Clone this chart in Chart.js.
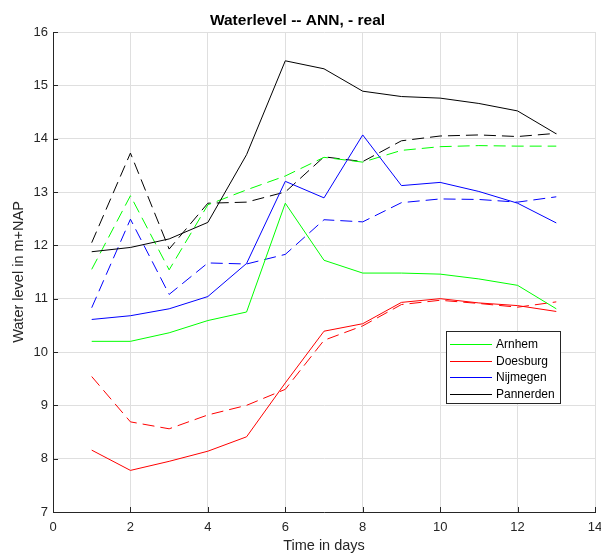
<!DOCTYPE html>
<html>
<head>
<meta charset="utf-8">
<script src="https://cdn.jsdelivr.net/npm/chart.js@4.4.1/dist/chart.umd.min.js"></script>
<style>
  html, body { margin: 0; padding: 0; background: #ffffff; }
  #wrap { width: 601px; height: 557px; }
</style>
</head>
<body>
<div id="wrap"><canvas id="waterChart" width="601" height="557"></canvas></div>
<script>
// 1. Data
const days = [1, 2, 3, 4, 5, 6, 7, 8, 9, 10, 11, 12, 13];
const stations = ['Arnhem', 'Doesburg', 'Nijmegen', 'Pannerden'];
const stationColors = ['#00ff00', '#ff0000', '#0000ff', '#000000'];

// solid = real measurements
const arnhemReal    = [10.20, 10.20, 10.36, 10.59, 10.75, 12.79, 11.72, 11.48, 11.48, 11.46, 11.37, 11.25, 10.81];
const doesburgReal  = [8.16, 7.78, 7.95, 8.14, 8.41, 9.42, 10.39, 10.53, 10.93, 11.00, 10.92, 10.87, 10.76];
const nijmegenReal  = [10.61, 10.68, 10.81, 11.04, 11.66, 13.20, 12.89, 14.07, 13.12, 13.18, 13.01, 12.79, 12.42];
const pannerdenReal = [11.88, 11.96, 12.12, 12.43, 13.70, 15.46, 15.31, 14.89, 14.79, 14.76, 14.66, 14.52, 14.09];

// dashed = ANN prediction
const arnhemAnn    = [11.55, 12.93, 11.54, 12.76, 13.04, 13.30, 13.65, 13.56, 13.78, 13.85, 13.87, 13.86, 13.86];
const doesburgAnn  = [9.54, 8.69, 8.56, 8.82, 9.00, 9.30, 10.22, 10.49, 10.89, 10.97, 10.91, 10.84, 10.94];
const nijmegenAnn  = [10.83, 12.49, 11.08, 11.67, 11.65, 11.83, 12.48, 12.44, 12.80, 12.87, 12.86, 12.81, 12.91];
const pannerdenAnn = [12.05, 13.73, 11.93, 12.79, 12.81, 13.00, 13.66, 13.57, 13.96, 14.05, 14.07, 14.04, 14.10];

const xTickValues = [0, 2, 4, 6, 8, 10, 12, 14];
const yTickValues = [7, 8, 9, 10, 11, 12, 13, 14, 15, 16];

const realSeries = [arnhemReal, doesburgReal, nijmegenReal, pannerdenReal];
const annSeries = [arnhemAnn, doesburgAnn, nijmegenAnn, pannerdenAnn];

const FONT = '"Liberation Sans", Arial, Helvetica, sans-serif';
const AXIS_COLOR = '#262626';

// 2. Build datasets
function toPoints(values) {
    return values.map((v, i) => ({ x: days[i], y: v }));
}

const datasets = [];
realSeries.forEach((vals, i) => {
    datasets.push({
        label: stations[i],
        data: toPoints(vals),
        borderColor: stationColors[i],
        borderWidth: 1,
        pointRadius: 0,
        tension: 0,
        fill: false
    });
});
annSeries.forEach((vals, i) => {
    datasets.push({
        label: stations[i] + ' ANN',
        data: toPoints(vals),
        borderColor: stationColors[i],
        borderWidth: 1,
        borderDash: [12, 6],
        pointRadius: 0,
        tension: 0,
        fill: false
    });
});

// 3. MATLAB style inward tick marks
const inwardTicks = {
    id: 'inwardTicks',
    afterDraw(chart) {
        const ctx = chart.ctx;
        const xs = chart.scales.x, ys = chart.scales.y;
        const area = chart.chartArea;
        ctx.save();
        ctx.setLineDash([]);
        ctx.strokeStyle = AXIS_COLOR;
        ctx.lineWidth = 1;
        ctx.beginPath();
        xTickValues.forEach(v => {
            const px = Math.round(xs.getPixelForValue(v)) + 0.5;
            ctx.moveTo(px, area.bottom);
            ctx.lineTo(px, area.bottom - 5);
        });
        yTickValues.forEach(v => {
            const py = Math.round(ys.getPixelForValue(v)) + 0.5;
            ctx.moveTo(area.left, py);
            ctx.lineTo(area.left + 5, py);
        });
        ctx.stroke();
        ctx.restore();
    }
};

// 4. Legend box inside the axes (only the solid "real" lines are listed)
const legendBox = {
    id: 'legendBox',
    afterDraw(chart) {
        const ctx = chart.ctx;
        const bx = 446.5, by = 331.5, bw = 114, bh = 72;
        ctx.save();
        ctx.setLineDash([]);
        ctx.fillStyle = '#ffffff';
        ctx.fillRect(bx, by, bw, bh);
        ctx.strokeStyle = AXIS_COLOR;
        ctx.lineWidth = 1;
        ctx.strokeRect(bx, by, bw, bh);
        ctx.font = '12px ' + FONT;
        ctx.textBaseline = 'middle';
        ctx.textAlign = 'left';
        stations.forEach((name, i) => {
            const y = Math.round(344 + i * 16.5);
            ctx.fillStyle = stationColors[i];
            ctx.fillRect(450, y, 42, 1);
            ctx.fillStyle = '#000000';
            ctx.fillText(name, 496, y + 0.5);
        });
        ctx.restore();
    }
};

// 5. Chart
const ctx = document.getElementById('waterChart').getContext('2d');
new Chart(ctx, {
    type: 'line',
    data: { datasets: datasets },
    options: {
        responsive: false,
        animation: false,
        devicePixelRatio: 1,
        layout: { padding: { left: 0, right: 6, top: 0, bottom: 0 } },
        plugins: {
            legend: { display: false },
            tooltip: { enabled: false },
            title: {
                display: true,
                text: 'Waterlevel -- ANN, - real',
                color: '#000000',
                font: { family: FONT, size: 15.5, weight: 'bold' },
                padding: { top: 11, bottom: 2.4 }
            }
        },
        scales: {
            x: {
                type: 'linear',
                min: 0,
                max: 14,
                afterBuildTicks: s => { s.ticks = xTickValues.map(v => ({ value: v })); },
                afterFit: s => { s.height = 45; s.paddingLeft = 0; s.paddingRight = 0; },
                grid: { color: '#dfdfdf', drawTicks: false },
                border: { color: AXIS_COLOR },
                ticks: {
                    color: AXIS_COLOR,
                    padding: 8,
                    maxRotation: 0,
                    font: { family: FONT, size: 13 }
                },
                title: {
                    display: true,
                    text: 'Time in days',
                    color: AXIS_COLOR,
                    font: { family: FONT, size: 14.5 },
                    padding: { top: 0, bottom: 2 }
                }
            },
            y: {
                type: 'linear',
                min: 7,
                max: 16,
                afterBuildTicks: s => { s.ticks = yTickValues.map(v => ({ value: v })); },
                afterFit: s => { s.width = 53; },
                grid: { color: '#dfdfdf', drawTicks: false },
                border: { color: AXIS_COLOR },
                ticks: {
                    color: AXIS_COLOR,
                    padding: 5,
                    font: { family: FONT, size: 13 }
                },
                title: {
                    display: true,
                    text: 'Water level in m+NAP',
                    color: AXIS_COLOR,
                    font: { family: FONT, size: 14.5 },
                    padding: { top: 10.5, bottom: 0 }
                }
            }
        }
    },
    plugins: [inwardTicks, legendBox]
});
</script>
</body>
</html>
